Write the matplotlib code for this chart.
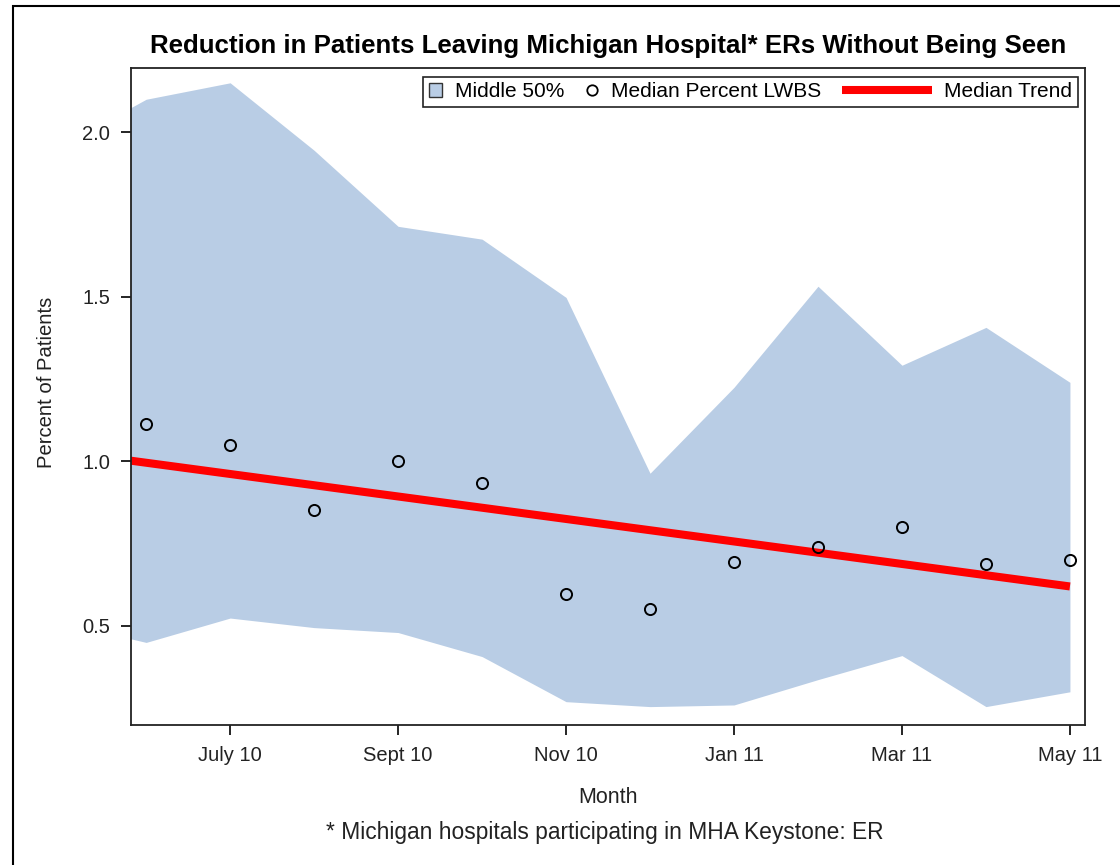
import matplotlib
matplotlib.use("Agg")
import matplotlib.pyplot as plt
from matplotlib.patches import Patch, Rectangle
from matplotlib.lines import Line2D

plt.rcParams['font.family'] = ['Liberation Sans', 'DejaVu Sans']

# month index: May 10 = -1, June 10 = 0 ... May 11 = 11
band_months = [-1, 0, 1, 2, 3, 4, 5, 6, 7, 8, 9, 10, 11]
band_upper = [1.96, 2.10, 2.15, 1.945, 1.714, 1.675, 1.498, 0.964, 1.225, 1.532, 1.292, 1.407, 1.24]
band_lower = [0.51, 0.45, 0.524, 0.495, 0.48, 0.407, 0.27, 0.255, 0.26, 0.337, 0.41, 0.255, 0.30]

median_months = [0, 1, 2, 3, 4, 5, 6, 7, 8, 9, 10, 11]
median_lwbs = [1.115, 1.049, 0.851, 1.0, 0.933, 0.596, 0.55, 0.693, 0.739, 0.802, 0.687, 0.699]

trend_months = [-1, 11]
trend_values = [1.03, 0.62]

tick_months = [1, 3, 5, 7, 9, 11]
tick_labels = ["July 10", "Sept 10", "Nov 10", "Jan 11", "Mar 11", "May 11"]

band_color = "#B9CDE5"
text_color = "#222222"


class LongLineHandler:
    # red legend line, longer than the other legend keys
    def legend_artist(self, legend, orig_handle, fontsize, handlebox):
        w = 4.3 * fontsize
        handlebox.width = w
        y = handlebox.height / 2 - handlebox.ydescent
        line = Line2D([0, w], [y, y], color=orig_handle.get_color(),
                      linewidth=orig_handle.get_linewidth(), solid_capstyle="butt")
        handlebox.add_artist(line)
        return line


fig = plt.figure(figsize=(11.2, 8.65), dpi=100)
ax = fig.add_axes([0.117, 0.1618, 0.8518, 0.7596])

ax.fill_between(band_months, band_lower, band_upper, color=band_color, linewidth=0, zorder=1)
ax.plot(trend_months, trend_values, color="#FF0000", linewidth=5.8, solid_capstyle="butt", zorder=2)
ax.plot(median_months, median_lwbs, linestyle="none", marker="o", markersize=8,
        markerfacecolor="none", markeredgecolor="black", markeredgewidth=1.4, zorder=3)

ax.set_xlim(-0.18, 11.18)
ax.set_ylim(0.199, 2.195)
ax.set_xticks(tick_months)
ax.set_xticklabels(tick_labels)
ax.set_yticks([0.5, 1.0, 1.5, 2.0])
ax.set_yticklabels(["0.5", "1.0", "1.5", "2.0"])
ax.tick_params(axis="both", direction="out", length=7, width=1.2, labelsize=14.5,
               labelcolor=text_color)
ax.tick_params(axis="x", pad=8)
ax.tick_params(axis="y", pad=8)
for s in ax.spines.values():
    s.set_linewidth(1.3)
    s.set_color("#222222")

ax.set_xlabel("Month", fontsize=15.5, color=text_color, labelpad=16)
ax.set_ylabel("Percent of Patients", fontsize=14.6, color=text_color, labelpad=19)
ax.yaxis.label.set_y(0.522)
ax.set_title("Reduction in Patients Leaving Michigan Hospital* ERs Without Being Seen",
             fontsize=18.6, fontweight="bold", color="black", pad=11)

trend_handle = Line2D([], [], color="#FF0000", linewidth=5.8)
handles = [
    Patch(facecolor=band_color, edgecolor="#333333", linewidth=1.0),
    Line2D([], [], linestyle="none", marker="o", markersize=7.5, markerfacecolor="none",
           markeredgecolor="black", markeredgewidth=1.3),
    trend_handle,
]
labels = ["Middle 50%", "Median Percent LWBS", "Median Trend"]
leg = ax.legend(handles, labels, loc="upper right", ncol=3, fontsize=15, frameon=True,
                fancybox=False, edgecolor="#222222", framealpha=1,
                borderaxespad=0, borderpad=0.28, handlelength=0.65, handleheight=0.65,
                handletextpad=0.6, columnspacing=1.0, bbox_to_anchor=(0.9927, 0.987),
                handler_map={trend_handle: LongLineHandler()})
leg.get_frame().set_linewidth(1.2)

fig.text(0.540, 0.037, "* Michigan hospitals participating in MHA Keystone: ER",
         ha="center", va="center", fontsize=16.4, color=text_color)

fig.patches.append(Rectangle((13 / 1120, -0.01), 1.2, 1 - 6 / 865 + 0.01, transform=fig.transFigure,
                             fill=False, edgecolor="black", linewidth=1.5))

fig.savefig("out.png", dpi=100)
